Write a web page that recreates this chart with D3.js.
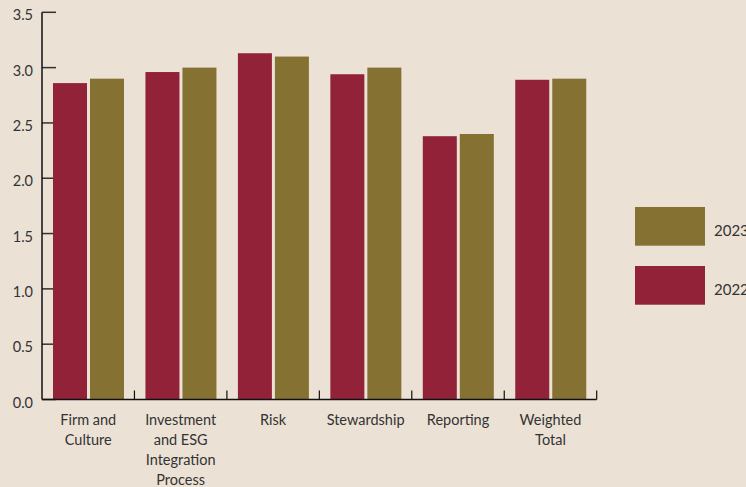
<!DOCTYPE html>
<html>
<head>
<meta charset="utf-8">
<script src="https://cdn.jsdelivr.net/npm/d3@7"></script>
<style>
  html, body { margin: 0; padding: 0; background: #ECE1D5; }
  svg { display: block; }
  text { font-family: Lato, "Open Sans", sans-serif; fill: #333; }
</style>
</head>
<body>
<svg id="chart" width="746" height="487"></svg>
<script>
const categories = [
  ["Firm and", "Culture"],
  ["Investment", "and ESG", "Integration", "Process"],
  ["Risk"],
  ["Stewardship"],
  ["Reporting"],
  ["Weighted", "Total"]
];
const seriesNames = ["2022", "2023"];
const values2022 = [2.86, 2.96, 3.13, 2.94, 2.38, 2.89];
const values2023 = [2.90, 3.00, 3.10, 3.00, 2.40, 2.90];
const yTicks = [0.0, 0.5, 1.0, 1.5, 2.0, 2.5, 3.0, 3.5];
const legendOrder = ["2023", "2022"];

const colors = { "2022": "#922238", "2023": "#857233" };
const seriesValues = { "2022": values2022, "2023": values2023 };

const svg = d3.select("#chart");
const mLeft = 42, mRight = 596.7, mTop = 12.3, mBottom = 399.5;

const catIdx = categories.map((c, i) => i);
const x0 = d3.scaleBand().domain(catIdx).range([mLeft, mRight]).padding(0);
const bw = x0.bandwidth();
const x1 = d3.scaleBand().domain(seriesNames)
  .range([bw * 0.119, bw * 0.887]).paddingInner(0.081).paddingOuter(0);
const y = d3.scaleLinear().domain([0, 3.5]).range([mBottom, mTop]);

// y ticks (drawn behind bars)
svg.append("g").selectAll("line").data(yTicks).join("line")
  .attr("x1", mLeft).attr("x2", mLeft + 14)
  .attr("y1", d => y(d)).attr("y2", d => y(d))
  .attr("stroke", "#333").attr("stroke-width", 1.5);

svg.append("g").selectAll("text").data(yTicks).join("text")
  .attr("x", 33).attr("y", d => y(d) + 4.5)
  .attr("text-anchor", "end").attr("dominant-baseline", "middle")
  .attr("font-size", 14.5)
  .text(d => d3.format(".1f")(d));

// bars
const groups = svg.append("g").selectAll("g").data(catIdx).join("g")
  .attr("transform", i => `translate(${x0(i)},0)`);
groups.selectAll("rect")
  .data(i => seriesNames.map(s => ({ s, v: seriesValues[s][i] })))
  .join("rect")
  .attr("x", d => x1(d.s))
  .attr("width", x1.bandwidth())
  .attr("y", d => y(d.v))
  .attr("height", d => y(0) - y(d.v))
  .attr("fill", d => colors[d.s]);

// axes lines
svg.append("line").attr("x1", mLeft).attr("x2", mLeft).attr("y1", mTop).attr("y2", mBottom)
  .attr("stroke", "#111").attr("stroke-width", 1.5);
svg.append("line").attr("x1", mLeft).attr("x2", mRight).attr("y1", mBottom).attr("y2", mBottom)
  .attr("stroke", "#111").attr("stroke-width", 1.5);

// x ticks at band boundaries
const xTickPos = catIdx.map(i => x0(i) + bw);
svg.append("g").selectAll("line").data(xTickPos).join("line")
  .attr("x1", d => d).attr("x2", d => d)
  .attr("y1", mBottom - 9).attr("y2", mBottom)
  .attr("stroke", "#111").attr("stroke-width", 1.2);

// x labels
const lab = svg.append("g").selectAll("text").data(catIdx).join("text")
  .attr("text-anchor", "middle").attr("font-size", 14.5)
  .attr("transform", i => `translate(${x0(i) + bw / 2},0)`);
lab.selectAll("tspan").data(i => categories[i]).join("tspan")
  .attr("x", 0).attr("y", (d, k) => 425 + k * 20)
  .text(d => d);

// legend
const leg = svg.append("g").selectAll("g").data(legendOrder).join("g")
  .attr("transform", (d, k) => `translate(635,${207 + k * 59})`);
leg.append("rect").attr("width", 70).attr("height", 38.7).attr("fill", d => colors[d]);
leg.append("text").attr("x", 79).attr("y", 25).attr("dominant-baseline", "middle")
  .attr("font-size", 15).text(d => d);
</script>
</body>
</html>
